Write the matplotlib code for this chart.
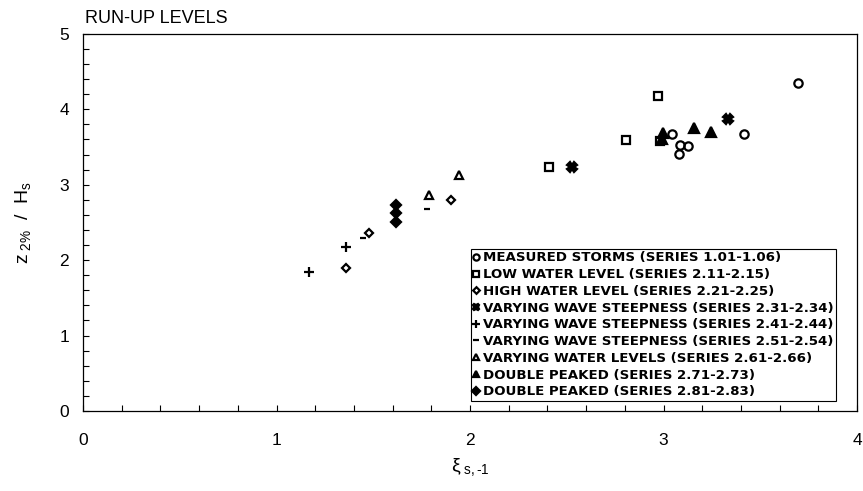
import matplotlib
matplotlib.use("Agg")
import matplotlib.pyplot as plt
from matplotlib.ticker import MultipleLocator

plt.rcParams["font.family"] = ["Liberation Sans", "DejaVu Sans"]
plt.rcParams["mathtext.fontset"] = "custom"
plt.rcParams["mathtext.rm"] = "Liberation Sans"
plt.rcParams["mathtext.it"] = "Liberation Sans"

# (xi_s,-1, z2%/Hs), one pair of lists per series
storms_x = [3.695, 3.416, 3.043, 3.086, 3.126, 3.081]
storms_y = [4.35, 3.67, 3.67, 3.53, 3.51, 3.41]
low_x = [2.971, 2.808, 2.409, 2.980]
low_y = [4.18, 3.59, 3.23, 3.58]
high_x = [1.357, 1.480, 1.899]
high_y = [1.90, 2.36, 2.80]
steep3_x = [3.331, 2.529]
steep3_y = [3.87, 3.24]
steep4_x = [1.170, 1.357]
steep4_y = [1.84, 2.17]
steep5_x = [1.448, 1.779]
steep5_y = [2.30, 2.68]
levels_x = [1.786, 1.942]
levels_y = [2.86, 3.13]
dp7_x = [3.155, 3.245, 2.997, 2.990]
dp7_y = [3.75, 3.70, 3.68, 3.60]
dp8_x = [1.616, 1.616, 1.616]
dp8_y = [2.73, 2.62, 2.51]

series = [
    (storms_x, storms_y, "MEASURED STORMS (SERIES 1.01-1.06)", "o", "none", 6),
    (low_x, low_y, "LOW WATER LEVEL (SERIES 2.11-2.15)", "s", "none", 6),
    (high_x, high_y, "HIGH WATER LEVEL (SERIES 2.21-2.25)", "D", "none", 4.5),
    (steep3_x, steep3_y, "VARYING WAVE STEEPNESS (SERIES 2.31-2.34)", "X", "black", 6.5),
    (steep4_x, steep4_y, "VARYING WAVE STEEPNESS (SERIES 2.41-2.44)", "+", "black", 7),
    (steep5_x, steep5_y, "VARYING WAVE STEEPNESS (SERIES 2.51-2.54)", "_", "black", 5),
    (levels_x, levels_y, "VARYING WATER LEVELS (SERIES 2.61-2.66)", "^", "none", 6),
    (dp7_x, dp7_y, "DOUBLE PEAKED (SERIES 2.71-2.73)", "^", "black", 6.5),
    (dp8_x, dp8_y, "DOUBLE PEAKED (SERIES 2.81-2.83)", "D", "black", 5),
]

fig = plt.figure(figsize=(8.63, 4.91), dpi=100)
ax = fig.add_axes([0.0962, 0.163, 0.897, 0.768])

for xs, ys, label, marker, face, size in series:
    ax.plot(xs, ys, linestyle="none", marker=marker, markersize=size,
            markerfacecolor=face, markeredgecolor="black",
            markeredgewidth=1.6, label=label)

ax.set_xlim(0, 4)
ax.set_ylim(0, 5)
ax.xaxis.set_major_locator(MultipleLocator(1))
ax.xaxis.set_minor_locator(MultipleLocator(0.2))
ax.yaxis.set_major_locator(MultipleLocator(1))
ax.yaxis.set_minor_locator(MultipleLocator(0.2))
ax.tick_params(which="both", direction="in", length=4, width=0.8,
               top=False, right=False, labelsize=12.5)
ax.tick_params(axis="x", which="both", pad=16)
ax.tick_params(axis="y", which="both", pad=10)
for spine in ax.spines.values():
    spine.set_linewidth(0.9)

ax.set_xlabel(r"$\xi_{\ s,\text{-}1}$", fontsize=14, labelpad=6)
ax.set_ylabel(r"$z_{\ 2\%}\ \ /\ \ H_s$", fontsize=14, labelpad=19)
ax.set_title("RUN-UP LEVELS", loc="left", fontsize=13, pad=8, x=0.002)

legend = ax.legend(loc="lower left", bbox_to_anchor=(0.501, 0.0265),
                   prop={"family": "DejaVu Sans", "size": 9.6,
                         "weight": "bold"},
                   frameon=True, fancybox=False, edgecolor="black",
                   framealpha=1, borderpad=0.2, handlelength=0.35,
                   handletextpad=0.35, labelspacing=0.28, borderaxespad=0,
                   markerscale=0.75)
legend.get_frame().set_linewidth(0.8)

fig.savefig("out.png", dpi=100)
